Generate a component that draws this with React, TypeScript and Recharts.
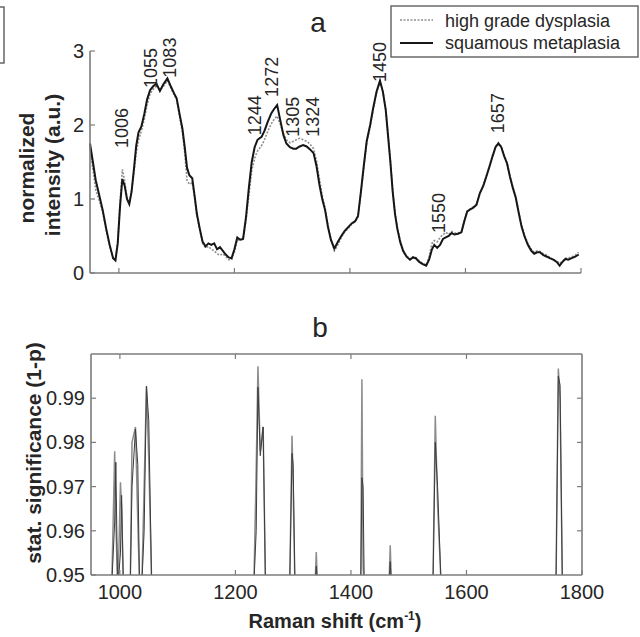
import React from 'react';
import { ComposedChart, Line, Scatter, XAxis, YAxis } from 'recharts';

const FONT = '"Liberation Sans", Arial, Helvetica, sans-serif';
const AXIS = '#7c7c7c';
const TEXT = '#262626';

// panel a: Raman spectra
const spectrumShift = [
  950, 955, 960, 966, 972, 978, 984, 990, 994, 998,
  1002, 1006, 1010, 1014, 1018, 1022, 1026, 1030, 1034, 1039,
  1044, 1049, 1054, 1059, 1065, 1071, 1077, 1084, 1090, 1096,
  1100, 1105, 1110, 1114, 1118, 1122, 1127, 1131, 1135, 1140,
  1145, 1150, 1155, 1160, 1165, 1170, 1175, 1180, 1185, 1190,
  1195, 1200, 1205, 1210, 1215, 1220, 1225, 1230, 1235, 1240,
  1247, 1252, 1258, 1264, 1269, 1274, 1279, 1285, 1290, 1296,
  1302, 1307, 1313, 1319, 1325, 1331, 1337, 1342, 1347, 1352,
  1357, 1362, 1367, 1373, 1379, 1385, 1391, 1397, 1403, 1409,
  1414, 1419, 1424, 1429, 1435, 1440, 1446, 1452, 1457, 1462,
  1466, 1470, 1474, 1478, 1482, 1487, 1492, 1498, 1504, 1509,
  1514, 1520, 1526, 1532, 1537, 1542, 1546, 1551, 1556, 1561,
  1566, 1571, 1576, 1581, 1587, 1593, 1598, 1603, 1608, 1613,
  1619, 1625, 1631, 1636, 1642, 1647, 1652, 1657, 1662, 1667,
  1672, 1677, 1682, 1687, 1692, 1697, 1702, 1708, 1714, 1719,
  1724, 1729, 1735, 1741, 1746, 1752, 1758, 1763, 1768, 1773,
  1778, 1784, 1790, 1796,
];

const dysplasia = [
  1.70, 1.40, 1.12, 0.98, 0.82, 0.58, 0.36, 0.20, 0.18, 0.42,
  0.95, 1.40, 1.25, 1.02, 0.95, 1.12, 1.35, 1.62, 1.80, 1.92,
  2.08, 2.28, 2.42, 2.48, 2.52, 2.48, 2.52, 2.60, 2.50, 2.40,
  2.34, 2.12, 1.90, 1.62, 1.25, 1.20, 1.22, 1.02, 0.78, 0.58,
  0.40, 0.34, 0.36, 0.32, 0.30, 0.26, 0.24, 0.26, 0.22, 0.18,
  0.18, 0.28, 0.45, 0.44, 0.46, 0.70, 1.05, 1.38, 1.55, 1.65,
  1.72, 1.80, 1.92, 2.02, 2.08, 2.12, 2.02, 1.88, 1.80, 1.76,
  1.78, 1.80, 1.82, 1.80, 1.78, 1.74, 1.68, 1.52, 1.28, 1.05,
  0.88, 0.65, 0.46, 0.30, 0.38, 0.48, 0.56, 0.60, 0.66, 0.69,
  0.76, 1.08, 1.42, 1.76, 1.98, 2.20, 2.43, 2.58, 2.45, 2.22,
  1.88, 1.52, 1.12, 0.82, 0.62, 0.44, 0.31, 0.23, 0.19, 0.22,
  0.21, 0.16, 0.13, 0.11, 0.22, 0.40, 0.44, 0.42, 0.48, 0.52,
  0.55, 0.52, 0.56, 0.54, 0.54, 0.56, 0.71, 0.84, 0.86, 0.89,
  0.93, 1.08, 1.19, 1.31, 1.46, 1.59, 1.71, 1.76, 1.71, 1.59,
  1.49, 1.31, 1.16, 1.03, 0.84, 0.65, 0.52, 0.40, 0.32, 0.28,
  0.30, 0.29, 0.26, 0.24, 0.21, 0.18, 0.16, 0.13, 0.16, 0.20,
  0.20, 0.22, 0.24, 0.28,
];

const metaplasia = [
  1.75, 1.50, 1.25, 1.05, 0.85, 0.60, 0.38, 0.20, 0.17, 0.40,
  0.90, 1.27, 1.18, 1.00, 0.93, 1.10, 1.40, 1.72, 1.90, 1.98,
  2.15, 2.35, 2.47, 2.52, 2.56, 2.46, 2.55, 2.63, 2.52, 2.42,
  2.36, 2.15, 1.95, 1.70, 1.42, 1.32, 1.28, 1.05, 0.80, 0.60,
  0.42, 0.36, 0.40, 0.38, 0.40, 0.32, 0.35, 0.30, 0.25, 0.21,
  0.20, 0.32, 0.48, 0.45, 0.46, 0.75, 1.15, 1.50, 1.70, 1.80,
  1.84, 1.92, 2.05, 2.16, 2.22, 2.27, 2.08, 1.86, 1.75, 1.70,
  1.68, 1.68, 1.71, 1.73, 1.71, 1.67, 1.62, 1.45, 1.20, 1.00,
  0.85, 0.62, 0.45, 0.33, 0.42, 0.50, 0.57, 0.62, 0.67, 0.70,
  0.77, 1.10, 1.45, 1.78, 2.00, 2.22, 2.45, 2.60, 2.45, 2.20,
  1.85, 1.50, 1.10, 0.80, 0.60, 0.42, 0.30, 0.22, 0.18, 0.21,
  0.20, 0.15, 0.12, 0.10, 0.18, 0.32, 0.38, 0.34, 0.38, 0.46,
  0.48, 0.50, 0.54, 0.52, 0.53, 0.55, 0.70, 0.83, 0.86, 0.88,
  0.92, 1.08, 1.18, 1.30, 1.45, 1.58, 1.70, 1.75, 1.70, 1.58,
  1.48, 1.30, 1.15, 1.02, 0.82, 0.63, 0.50, 0.38, 0.30, 0.26,
  0.28, 0.28, 0.24, 0.22, 0.20, 0.18, 0.15, 0.10, 0.15, 0.19,
  0.18, 0.20, 0.22, 0.25,
];

// rotated peak annotations (anchor = bottom of the label, data units)
const peakNames = ['1006', '1055', '1083', '1244', '1272', '1305', '1324', '1450', '1550', '1657'];
const peakNameShift = [1004, 1054, 1087, 1234, 1265, 1301, 1336, 1452, 1554, 1655];
const peakNameLevel = [1.69, 2.5, 2.64, 1.86, 2.38, 1.84, 1.84, 2.58, 0.54, 1.89];

const ramanTicks = [1000, 1200, 1400, 1600, 1800];
const intensityTicks = [0, 1, 2, 3];
const significanceTicks = [0.95, 0.96, 0.97, 0.98, 0.99];

// panel b: significance spikes (values under 0.95 are clipped away)
const sigShift = [
  950, 986, 991, 993, 996, 997, 1001, 1003, 1006,
  1018, 1021, 1027, 1031, 1034, 1038, 1042, 1046, 1050, 1055,
  1232, 1236, 1239, 1243, 1248, 1252, 1294, 1298, 1300, 1303,
  1338, 1340, 1342, 1417, 1419, 1421, 1423, 1466, 1468, 1470,
  1542, 1546, 1550, 1556, 1755, 1759, 1762, 1766, 1800,
];
const sigOuter = [
  0.948, 0.948, 0.978, 0.962, 0.948, 0.948, 0.971, 0.965, 0.948,
  0.948, 0.98, 0.9835, 0.962, 0.948, 0.948, 0.97, 0.9927, 0.976, 0.948,
  0.948, 0.974, 0.9972, 0.978, 0.9835, 0.948, 0.948, 0.9815, 0.97, 0.948,
  0.948, 0.9552, 0.948, 0.948, 0.9943, 0.952, 0.948, 0.948, 0.9567, 0.948,
  0.948, 0.986, 0.966, 0.948, 0.948, 0.9967, 0.99, 0.948, 0.948,
];
const sigInner = [
  0.948, 0.948, 0.962, 0.9755, 0.948, 0.948, 0.955, 0.968, 0.948,
  0.948, 0.97, 0.983, 0.975, 0.948, 0.948, 0.96, 0.9927, 0.985, 0.948,
  0.948, 0.96, 0.9925, 0.977, 0.9835, 0.948, 0.948, 0.9775, 0.975, 0.948,
  0.948, 0.952, 0.948, 0.948, 0.972, 0.97, 0.948, 0.948, 0.953, 0.948,
  0.948, 0.98, 0.97, 0.948, 0.948, 0.995, 0.993, 0.948, 0.948,
];

const spectrumRows = spectrumShift.map((s, i) => ({ shift: s, dysplasia: dysplasia[i], metaplasia: metaplasia[i] }));
const peakRows = peakNames.map((n, i) => ({ shift: peakNameShift[i], pos: peakNameLevel[i], name: n }));
const sigRows = sigShift.map((s, i) => ({ shift: s, outer: sigOuter[i], inner: sigInner[i] }));

const axisLine = { stroke: AXIS, strokeWidth: 1.6 };

const BottomTick = (props: any) => {
  const { x, y, payload, showLabel } = props;
  return (
    <g>
      <line x1={x} x2={x} y1={y} y2={y - 5} stroke={AXIS} strokeWidth={1.2} />
      {showLabel && (
        <text x={x} y={y + 24} textAnchor="middle" fontSize={20} fill={TEXT} fontFamily={FONT}>
          {payload.value}
        </text>
      )}
    </g>
  );
};

const LeftTick = (props: any) => {
  const { x, y, payload, digits } = props;
  return (
    <g>
      <line x1={x} x2={x + 5} y1={y} y2={y} stroke={AXIS} strokeWidth={1.2} />
      <text x={x - 6} y={y + 7} textAnchor="end" fontSize={20} fill={TEXT} fontFamily={FONT}>
        {Number(payload.value).toFixed(digits)}
      </text>
    </g>
  );
};

const TopTick = (props: any) => {
  const { x, y } = props;
  return <line x1={x} x2={x} y1={y} y2={y + 5} stroke={AXIS} strokeWidth={1.2} />;
};

const RightTick = (props: any) => {
  const { x, y } = props;
  return <line x1={x} x2={x - 5} y1={y} y2={y} stroke={AXIS} strokeWidth={1.2} />;
};

const PeakName = (props: any) => {
  const { cx, cy, payload } = props;
  return (
    <text
      x={cx}
      y={cy}
      dy="0.36em"
      transform={`rotate(-90 ${cx} ${cy})`}
      fontSize={18}
      fill={TEXT}
      fontFamily={FONT}
    >
      {payload.name}
    </text>
  );
};

const SpectraPanel = () => (
  <ComposedChart width={640} height={300} data={spectrumRows} margin={{ top: 51, right: 59, bottom: 7, left: 50 }}>
    <XAxis
      type="number"
      dataKey="shift"
      domain={[950, 1800]}
      ticks={ramanTicks}
      interval={0}
      height={20}
      tickSize={0}
      tickMargin={0}
      tickLine={false}
      axisLine={axisLine}
      tick={(p: any) => <BottomTick {...p} showLabel={false} />}
    />
    <YAxis
      type="number"
      domain={[0, 3]}
      ticks={intensityTicks}
      interval={0}
      width={40}
      tickSize={0}
      tickMargin={0}
      tickLine={false}
      axisLine={axisLine}
      tick={(p: any) => <LeftTick {...p} digits={0} />}
    />
    <Line
      dataKey="dysplasia"
      type="linear"
      stroke="#8f8f8f"
      strokeWidth={1.6}
      strokeDasharray="2 1.5"
      dot={false}
      isAnimationActive={false}
    />
    <Line dataKey="metaplasia" type="linear" stroke="#161616" strokeWidth={2} dot={false} isAnimationActive={false} />
    <Scatter data={peakRows} dataKey="pos" shape={PeakName} isAnimationActive={false} />
  </ComposedChart>
);

const SignificancePanel = () => (
  <ComposedChart width={640} height={337} data={sigRows} margin={{ top: 44, right: 48, bottom: 42, left: 51 }}>
    <XAxis
      type="number"
      dataKey="shift"
      domain={[950, 1800]}
      allowDataOverflow
      ticks={ramanTicks}
      interval={0}
      height={20}
      tickSize={0}
      tickMargin={0}
      tickLine={false}
      axisLine={axisLine}
      tick={(p: any) => <BottomTick {...p} showLabel />}
    />
    <XAxis
      xAxisId="top"
      orientation="top"
      type="number"
      dataKey="shift"
      domain={[950, 1800]}
      allowDataOverflow
      ticks={[1000, 1200, 1400, 1600]}
      interval={0}
      height={10}
      tickSize={0}
      tickMargin={0}
      tickLine={false}
      axisLine={axisLine}
      tick={(p: any) => <TopTick {...p} />}
    />
    <YAxis
      type="number"
      domain={[0.95, 1]}
      allowDataOverflow
      ticks={significanceTicks}
      interval={0}
      width={40}
      tickSize={0}
      tickMargin={0}
      tickLine={false}
      axisLine={axisLine}
      tick={(p: any) => <LeftTick {...p} digits={2} />}
    />
    <YAxis
      yAxisId="right"
      orientation="right"
      type="number"
      domain={[0.95, 1]}
      allowDataOverflow
      ticks={[0.96, 0.97, 0.98, 0.99]}
      interval={0}
      width={10}
      tickSize={0}
      tickMargin={0}
      tickLine={false}
      axisLine={axisLine}
      tick={(p: any) => <RightTick {...p} />}
    />
    <Line dataKey="outer" type="linear" stroke="#8c8c8c" strokeWidth={1.5} dot={false} isAnimationActive={false} />
    <Line dataKey="inner" type="linear" stroke="#3c3c3c" strokeWidth={1} dot={false} isAnimationActive={false} />
  </ComposedChart>
);

const Overlay = () => (
  <svg width={640} height={637} style={{ position: 'absolute', left: 0, top: 0, pointerEvents: 'none' }}>
    <path d="M0 7 H4 V63 H0" fill="none" stroke="#666" strokeWidth={1.5} />
    <text x={318} y={32} textAnchor="middle" fontSize={28} fill={TEXT} fontFamily={FONT}>a</text>
    <text x={320} y={337} textAnchor="middle" fontSize={28} fill={TEXT} fontFamily={FONT}>b</text>

    <g fontFamily={FONT} fontWeight="bold" fontSize={21} fill={TEXT}>
      <text x={26} y={168} dy="0.36em" textAnchor="middle" transform="rotate(-90 26 168)">normalized</text>
      <text x={52} y={165} dy="0.36em" textAnchor="middle" transform="rotate(-90 52 165)">intensity (a.u.)</text>
      <text x={33} y={453} dy="0.36em" textAnchor="middle" transform="rotate(-90 33 453)">stat. significance (1-p)</text>
      <text x={335} y={628} textAnchor="middle" fontSize={20}>
        Raman shift (cm
        <tspan dy={-8} fontSize={12}>-1</tspan>
        <tspan dy={8}>)</tspan>
      </text>
    </g>

    <rect x={391} y={6} width={247} height={51} fill="#fff" stroke="#6a6a6a" strokeWidth={1.5} />
    <line x1={400} x2={433} y1={20} y2={20} stroke="#8f8f8f" strokeWidth={1.6} strokeDasharray="2 1.5" />
    <line x1={400} x2={433} y1={43} y2={43} stroke="#161616" strokeWidth={2} />
    <g fontFamily={FONT} fontSize={18} fill={TEXT}>
      <text x={445} y={27}>high grade dysplasia</text>
      <text x={445} y={49}>squamous metaplasia</text>
    </g>
  </svg>
);

export default function App() {
  return (
    <div style={{ position: 'absolute', left: 0, top: 0, width: 640, height: 637, background: '#fff' }}>
      <div style={{ position: 'absolute', left: 0, top: 0 }}>
        <SpectraPanel />
      </div>
      <div style={{ position: 'absolute', left: 0, top: 300 }}>
        <SignificancePanel />
      </div>
      <Overlay />
    </div>
  );
}
